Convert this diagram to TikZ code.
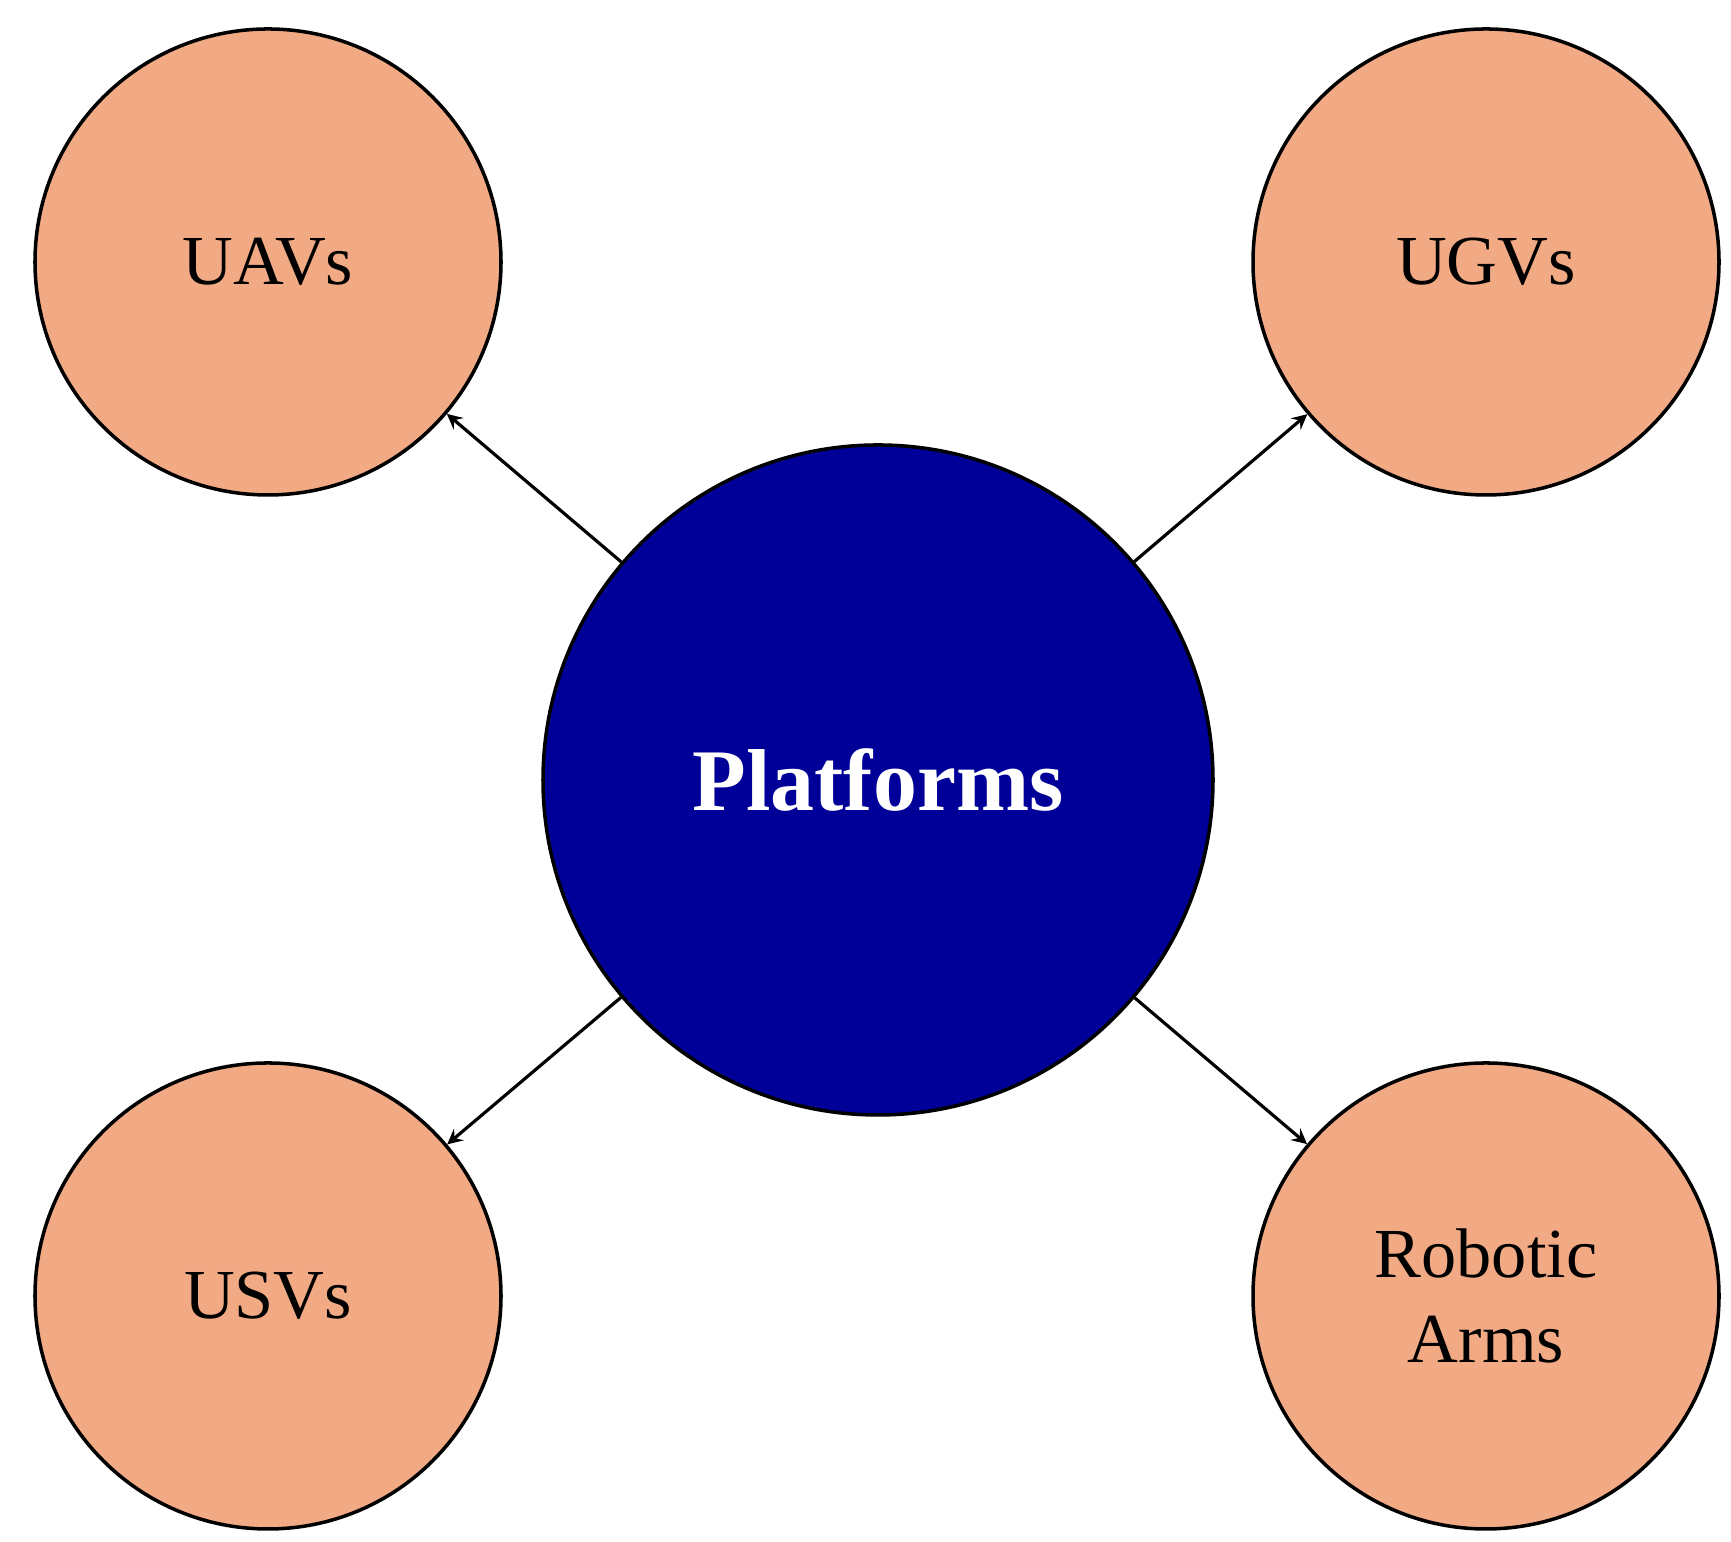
\documentclass[tikz,border=0pt]{standalone}
\usepackage{fontspec}
\setmainfont{Liberation Serif}
\definecolor{leaf}{HTML}{F2AA85}
\definecolor{hub}{HTML}{000099}
\begin{document}
\begin{tikzpicture}[
  leafnode/.style={circle,draw=black,line width=1pt,fill=leaf,minimum size=4.66cm,inner sep=0pt,align=center,font=\fontsize{20}{24}\selectfont},
  hubnode/.style={circle,draw=black,line width=1pt,fill=hub,minimum size=6.7cm,inner sep=0pt,text=white,font=\fontsize{25}{30}\selectfont\bfseries},
  conn/.style={-stealth,line width=0.9pt}]
\useasboundingbox (0,0) rectangle (17.31,15.42);
\node[hubnode] (p) at (8.78,7.62) {Platforms};
\node[leafnode] (uav) at (2.68,12.80) {UAVs};
\node[leafnode] (ugv) at (14.86,12.80) {UGVs};
\node[leafnode] (usv) at (2.68,2.46) {USVs};
\node[leafnode] (ra) at (14.86,2.46) {Robotic\\Arms};
\draw[conn] (p) -- (uav);
\draw[conn] (p) -- (ugv);
\draw[conn] (p) -- (usv);
\draw[conn] (p) -- (ra);
\end{tikzpicture}
\end{document}
